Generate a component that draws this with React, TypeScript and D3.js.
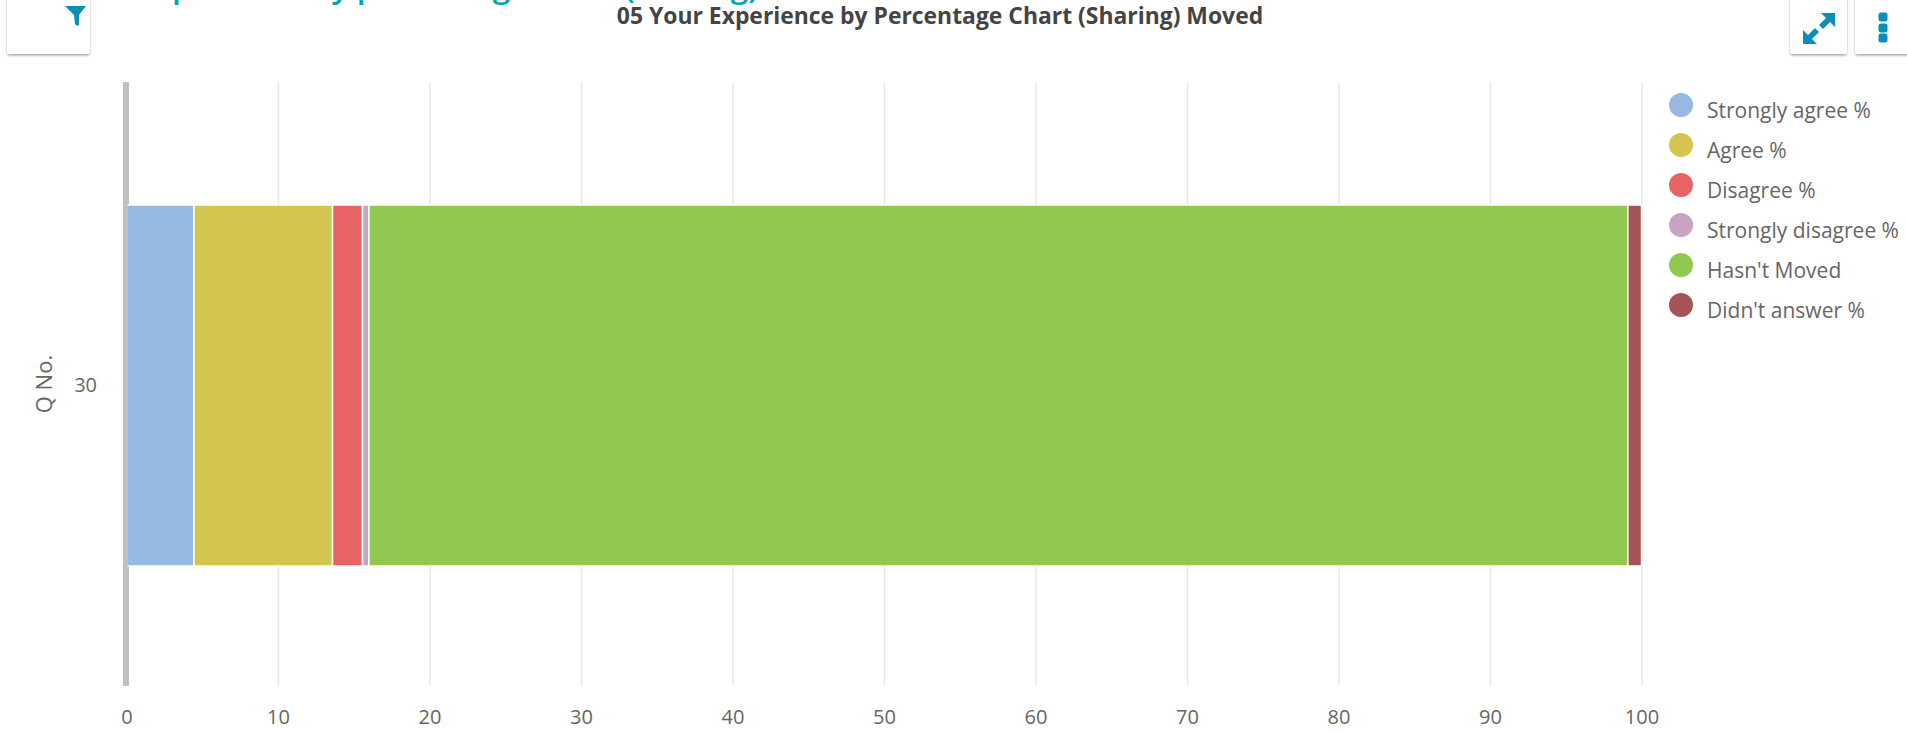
import React, { useRef, useEffect } from 'react';
import * as d3 from 'd3';

const WIDTH = 1907;
const HEIGHT = 733;

const chartTitle = "05 Your Experience by Percentage Chart (Sharing) Moved";
const pageTitle = "Experience by percentage chart (sharing)";
const questions = ["30"];
const seriesNames = ["Strongly agree %", "Agree %", "Disagree %", "Strongly disagree %", "Hasn't Moved", "Didn't answer %"];
const seriesColors = ["#95b9e1", "#d3c550", "#e76364", "#c9a3c4", "#91c851", "#a65355"];
const q30Values = [4.45, 9.15, 1.98, 0.42, 83.1, 0.9];
const xTicks = [0, 10, 20, 30, 40, 50, 60, 70, 80, 90, 100];

const font = "'Open Sans', sans-serif";
const iconBlue = "#0a8fb8";

const App: React.FC = () => {
  const svgRef = useRef<SVGSVGElement>(null);

  useEffect(() => {
    if (!svgRef.current) return;

    const svg = d3.select(svgRef.current);
    svg.selectAll("*").remove();

    const x = d3.scaleLinear().domain([0, 100]).range([126.5, 1641.5]);
    const y = d3.scaleBand()
      .domain(questions)
      .range([83, 688])
      .paddingInner(0)
      .paddingOuter(0.338);

    const rows = questions.map((q, i) => {
      const row: Record<string, any> = { q };
      seriesNames.forEach((name, s) => { row[name] = [q30Values][i][s]; });
      return row;
    });
    const stacked = d3.stack().keys(seriesNames)(rows as any);

    const defs = svg.append("defs");
    defs.append("filter")
      .attr("id", "btnShadow")
      .attr("x", "-20%").attr("y", "-20%").attr("width", "140%").attr("height", "140%")
      .append("feDropShadow")
      .attr("dx", 0).attr("dy", 1.5).attr("stdDeviation", 1.2)
      .attr("flood-color", "#000").attr("flood-opacity", 0.35);

    // Page heading, cut off by the top of the screenshot
    svg.append("text")
      .attr("x", 137)
      .attr("y", -2)
      .attr("font-family", font)
      .attr("font-size", 31.5)
      .attr("font-weight", 600)
      .attr("fill", "#00a2b5")
      .text(pageTitle);

    // Toolbar buttons
    const buttons = [[7, 83], [1790, 57], [1855, 60]];
    svg.append("g").selectAll("rect")
      .data(buttons)
      .enter().append("rect")
      .attr("x", d => d[0])
      .attr("y", -10)
      .attr("width", d => d[1])
      .attr("height", 64)
      .attr("rx", 3)
      .attr("fill", "#fff")
      .attr("filter", "url(#btnShadow)");

    svg.append("path")
      .attr("d", "M65,6 L86,6 L79,15 L79,25 Q77,27 75,24 L74,15 Z")
      .attr("fill", iconBlue);

    // Expand icon, two arrows with a gap in the middle
    svg.append("path")
      .attr("d", "M1835,13 L1835,27 L1830,22 L1823,29 L1819,25 L1826,18 L1821,13 Z")
      .attr("fill", iconBlue);
    svg.append("path")
      .attr("d", "M1803,44 L1803,30 L1808,35 L1815,28 L1819,32 L1812,39 L1817,44 Z")
      .attr("fill", iconBlue);

    svg.append("g").selectAll("rect")
      .data([17, 28, 38])
      .enter().append("rect")
      .attr("x", 1878.5)
      .attr("y", d => d - 4.5)
      .attr("width", 9)
      .attr("height", 9)
      .attr("rx", 2.5)
      .attr("fill", iconBlue);

    // Chart title
    svg.append("text")
      .attr("x", 940)
      .attr("y", 24)
      .attr("text-anchor", "middle")
      .attr("font-family", font)
      .attr("font-size", 22.9)
      .attr("font-weight", 700)
      .attr("fill", "#444")
      .text(chartTitle);

    // Draw grid lines
    svg.append("g").selectAll("line")
      .data(xTicks.slice(1))
      .enter().append("line")
      .attr("x1", d => x(d) + 0.5)
      .attr("x2", d => x(d) + 0.5)
      .attr("y1", 82)
      .attr("y2", 686)
      .attr("stroke", "#e8e8e8")
      .attr("stroke-width", 1.5);

    // Zero line
    svg.append("line")
      .attr("x1", x(0) - 0.5)
      .attr("x2", x(0) - 0.5)
      .attr("y1", 82)
      .attr("y2", 686)
      .attr("stroke", "#c0c0c0")
      .attr("stroke-width", 6);

    // Draw X axis
    const xAxis = svg.append("g")
      .attr("transform", "translate(0,686)")
      .call(d3.axisBottom(x).tickValues(xTicks).tickSize(0).tickPadding(24));
    xAxis.select(".domain").remove();
    xAxis.selectAll("text")
      .attr("font-family", font)
      .attr("font-size", 20)
      .attr("fill", "#666");

    // Draw Y axis
    const yAxis = svg.append("g")
      .attr("transform", "translate(97,0)")
      .call(d3.axisLeft(y).tickSize(0).tickPadding(0));
    yAxis.select(".domain").remove();
    yAxis.selectAll("text")
      .attr("font-family", font)
      .attr("font-size", 20)
      .attr("fill", "#666");

    svg.append("text")
      .attr("transform", "translate(43,384) rotate(-90)")
      .attr("text-anchor", "middle")
      .attr("dominant-baseline", "central")
      .attr("font-family", font)
      .attr("font-size", 22)
      .attr("fill", "#666")
      .text("Q No.");

    // Draw bars
    const groups = svg.append("g").selectAll("g")
      .data(stacked)
      .enter().append("g")
      .attr("fill", (_, i) => seriesColors[i]);

    groups.selectAll("rect")
      .data(d => d.map(p => ({ p, q: (p.data as any).q as string })))
      .enter().append("rect")
      .attr("x", d => x(d.p[0]))
      .attr("width", d => x(d.p[1]) - x(d.p[0]))
      .attr("y", d => y(d.q) || 0)
      .attr("height", y.bandwidth())
      .attr("stroke", "#fff")
      .attr("stroke-width", 1.5);

    // Part of the zero line stays visible on top of the first bar's edge
    svg.append("line")
      .attr("x1", x(0) - 1.25)
      .attr("x2", x(0) - 1.25)
      .attr("y1", 82)
      .attr("y2", 686)
      .attr("stroke", "#c0c0c0")
      .attr("stroke-width", 4.5);

    // Legend
    const legend = svg.append("g").selectAll("g")
      .data(seriesNames)
      .enter().append("g")
      .attr("transform", (_, i) => `translate(1681,${105 + i * 40})`);

    legend.append("circle")
      .attr("r", 12)
      .attr("fill", (_, i) => seriesColors[i]);

    legend.append("text")
      .attr("x", 26)
      .attr("y", 5)
      .attr("dominant-baseline", "central")
      .attr("font-family", font)
      .attr("font-size", 21)
      .attr("fill", "#666")
      .text(d => d);
  }, []);

  return (
    <svg
      ref={svgRef}
      width={WIDTH}
      height={HEIGHT}
      style={{ position: "absolute", left: 0, top: 0, display: "block", background: "#fff" }}
    ></svg>
  );
};

export default App;
